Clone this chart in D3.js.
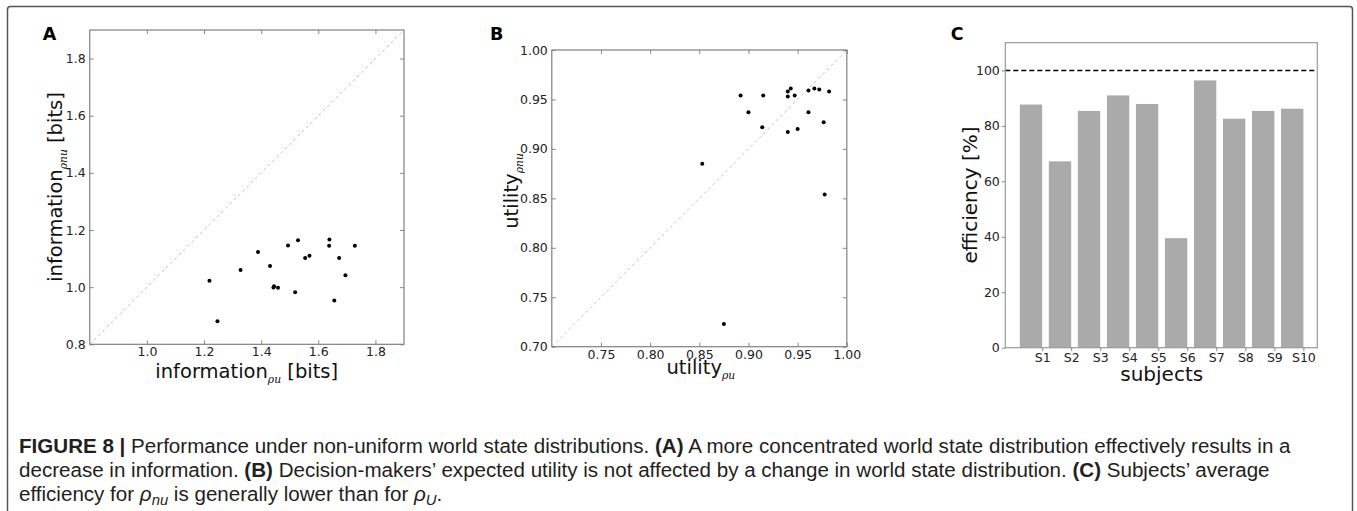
<!DOCTYPE html>
<html>
<head>
<meta charset="utf-8">
<script src="https://cdn.jsdelivr.net/npm/d3@7"></script>
<style>
body { margin: 0; background: #fff; }
svg text { font-family: "DejaVu Sans", sans-serif; }
</style>
</head>
<body>
<svg id="fig" width="1357" height="511"></svg>
<script>
// panel A: information under uniform vs non-uniform world states
var infoU  = [1.219, 1.247, 1.328, 1.389, 1.431, 1.443, 1.445, 1.459, 1.494, 1.519,
              1.529, 1.554, 1.569, 1.639, 1.638, 1.656, 1.673, 1.695, 1.728];
var infoNU = [1.022, 0.881, 1.060, 1.123, 1.074, 0.999, 1.003, 0.998, 1.146, 0.982,
              1.164, 1.102, 1.110, 1.167, 1.145, 0.953, 1.102, 1.042, 1.145];
var xTicksA = [1.0, 1.2, 1.4, 1.6, 1.8];
var yTicksA = [0.8, 1.0, 1.2, 1.4, 1.6, 1.8];

// panel B: utility
var utilU  = [0.853, 0.875, 0.892, 0.900, 0.914, 0.915, 0.940, 0.940, 0.943, 0.947,
              0.940, 0.950, 0.961, 0.961, 0.967, 0.972, 0.9765, 0.9775, 0.982];
var utilNU = [0.885, 0.723, 0.954, 0.937, 0.922, 0.954, 0.953, 0.958, 0.961, 0.954,
              0.917, 0.920, 0.959, 0.937, 0.961, 0.960, 0.927, 0.854, 0.958];
var xTicksB = [0.75, 0.80, 0.85, 0.90, 0.95, 1.00];
var yTicksB = [0.70, 0.75, 0.80, 0.85, 0.90, 0.95, 1.00];

// panel C: efficiency per subject
var subjects = ['S1', 'S2', 'S3', 'S4', 'S5', 'S6', 'S7', 'S8', 'S9', 'S10'];
var efficiency = [87.7, 67.2, 85.4, 91.0, 87.9, 39.5, 96.4, 82.6, 85.4, 86.2];
var yTicksC = [0, 20, 40, 60, 80, 100];
var refLine = 100;

var svg = d3.select('#fig');
svg.append('rect').attr('width', 1357).attr('height', 511).attr('fill', '#fff');

// outer frame of the figure (open at the bottom edge of the crop)
svg.append('rect')
    .attr('x', 7.5).attr('y', 6.5).attr('width', 1345).attr('height', 530)
    .attr('rx', 3).attr('fill', 'none').attr('stroke', '#555').attr('stroke-width', 1.5);

function styleAxis(g, size) {
    g.select('.domain').remove();
    g.selectAll('.tick line').attr('stroke', '#888').attr('stroke-width', 1);
    g.selectAll('.tick text').attr('fill', '#222').attr('font-size', size)
        .attr('font-family', '"DejaVu Sans", sans-serif');
}

function axisLabel(x, y, rot, main, sub, tail, size) {
    var t = svg.append('text')
        .attr('text-anchor', 'middle')
        .attr('font-size', size)
        .attr('fill', '#111')
        .attr('transform', 'translate(' + x + ',' + y + ')' + (rot ? ' rotate(-90)' : ''));
    t.append('tspan').text(main);
    if (sub) {
        t.append('tspan').attr('dy', 5)
            .attr('font-family', '"DejaVu Serif", serif').attr('font-style', 'italic')
            .attr('font-size', size * 0.55).text(sub);
    }
    if (tail) t.append('tspan').attr('dy', -5).text(' ' + tail);
}

function panelLetter(x, y, s) {
    svg.append('text').attr('x', x).attr('y', y)
        .attr('font-family', '"Liberation Sans", Arial, sans-serif')
        .attr('font-weight', 'bold').attr('font-size', 17.5).attr('fill', '#000')
        .text(s);
}

// scatter panel in old matplotlib style: inward ticks on all four sides
function scatterPanel(xs, ys, xDom, yDom, box, xTicks, yTicks, fmt) {
    var x = d3.scaleLinear().domain(xDom).range([box.l, box.r]);
    var y = d3.scaleLinear().domain(yDom).range([box.b, box.t]);

    svg.append('g').attr('transform', 'translate(0,' + box.b + ')')
        .call(d3.axisBottom(x).tickValues(xTicks).tickSize(-4).tickPadding(3).tickFormat(fmt))
        .call(styleAxis, 12.5);
    svg.append('g').attr('transform', 'translate(' + box.l + ',0)')
        .call(d3.axisLeft(y).tickValues(yTicks).tickSize(-4).tickPadding(4).tickFormat(fmt))
        .call(styleAxis, 12.5);
    svg.append('g').attr('transform', 'translate(0,' + box.t + ')')
        .call(d3.axisTop(x).tickValues(xTicks).tickSize(-4).tickFormat(''))
        .call(styleAxis, 12.5);
    svg.append('g').attr('transform', 'translate(' + box.r + ',0)')
        .call(d3.axisRight(y).tickValues(yTicks).tickSize(-4).tickFormat(''))
        .call(styleAxis, 12.5);

    // identity line
    svg.append('line')
        .attr('x1', x(xDom[0])).attr('y1', y(xDom[0]))
        .attr('x2', x(xDom[1])).attr('y2', y(xDom[1]))
        .attr('stroke', '#c4c4c4').attr('stroke-width', 1).attr('stroke-dasharray', '3,3');

    svg.append('rect')
        .attr('x', box.l).attr('y', box.t)
        .attr('width', box.r - box.l).attr('height', box.b - box.t)
        .attr('fill', 'none').attr('stroke', '#808080').attr('stroke-width', 1.2);

    svg.append('g').selectAll('circle').data(xs).enter().append('circle')
        .attr('cx', function (d) { return x(d); })
        .attr('cy', function (d, i) { return y(ys[i]); })
        .attr('r', 2).attr('fill', '#000');
}

// A
scatterPanel(infoU, infoNU, [0.8, 1.9], [0.8, 1.9],
    {l: 89.75, r: 404, t: 30, b: 344.3}, xTicksA, yTicksA, d3.format('.1f'));
panelLetter(42.7, 39.5, 'A');
axisLabel(246.7, 377.5, false, 'information', '\u03c1u', '[bits]', 19.5);
axisLabel(61.5, 187, true, 'information', '\u03c1nu', '[bits]', 19.5);

// B
scatterPanel(utilU, utilNU, [0.70, 1.00], [0.70, 1.00],
    {l: 551.8, r: 846.8, t: 50, b: 346.7}, xTicksB, yTicksB, d3.format('.2f'));
panelLetter(490, 40, 'B');
axisLabel(700.8, 374, false, 'utility', '\u03c1u', null, 19.5);
axisLabel(517.8, 191, true, 'utility', '\u03c1nu', null, 19.5);

// C: bars, left edge at i, tick at right edge of each bar
var barW = 0.77;
var xC = d3.scaleLinear().domain([-0.5, 10.25]).range([1005.3, 1317.3]);
var yC = d3.scaleLinear().domain([0, 110]).range([347.7, 42.7]);

svg.append('g').selectAll('rect').data(efficiency).enter().append('rect')
    .attr('x', function (d, i) { return xC(i); })
    .attr('width', xC(barW) - xC(0))
    .attr('y', function (d) { return yC(d); })
    .attr('height', function (d) { return yC(0) - yC(d); })
    .attr('fill', '#aaaaaa');

svg.append('line')
    .attr('x1', xC.range()[0]).attr('x2', xC.range()[1])
    .attr('y1', yC(refLine)).attr('y2', yC(refLine))
    .attr('stroke', '#000').attr('stroke-width', 1.4).attr('stroke-dasharray', '5,3');

svg.append('rect')
    .attr('x', xC.range()[0]).attr('y', yC.range()[1])
    .attr('width', xC.range()[1] - xC.range()[0]).attr('height', yC.range()[0] - yC.range()[1])
    .attr('fill', 'none').attr('stroke', '#999').attr('stroke-width', 1.2);

svg.append('g').attr('transform', 'translate(0,' + yC(0) + ')')
    .call(d3.axisBottom(xC)
        .tickValues(subjects.map(function (s, i) { return i + barW; }))
        .tickFormat(function (d, i) { return subjects[i]; })
        .tickSize(3.5).tickPadding(2))
    .call(styleAxis, 12.5);
svg.append('g').attr('transform', 'translate(' + xC.range()[0] + ',0)')
    .call(d3.axisLeft(yC).tickValues(yTicksC).tickSize(3.5).tickPadding(2))
    .call(styleAxis, 12.5);

panelLetter(950.7, 40, 'C');
axisLabel(1161.7, 380.5, false, 'subjects', null, null, 20);
axisLabel(976.5, 195, true, 'efficiency [%]', null, null, 20);

// caption
var captionLines = [
    [['FIGURE 8 |', 'b'], [' Performance under non-uniform world state distributions. ', ''], ['(A)', 'b'],
     [' A more concentrated world state distribution effectively results in a', '']],
    [['decrease in information. ', ''], ['(B)', 'b'],
     [' Decision-makers\u2019 expected utility is not affected by a change in world state distribution. ', ''],
     ['(C)', 'b'], [' Subjects\u2019 average', '']],
    [['efficiency for ', ''], ['\u03c1', 'i'], ['nu', 'sub'], [' is generally lower than for ', ''],
     ['\u03c1', 'i'], ['U', 'sub'], ['.', '']]
];
var captionY = [453, 477, 500.5];

var cap = svg.append('g')
    .attr('font-family', '"Liberation Sans", Arial, sans-serif')
    .attr('font-size', 18).attr('fill', '#231f20');

captionLines.forEach(function (segs, li) {
    var t = cap.append('text').attr('x', 19).attr('y', captionY[li])
        .style('font-family', '"Liberation Sans", Arial, sans-serif');
    var shifted = false;
    segs.forEach(function (s) {
        var ts = t.append('tspan').text(s[0]);
        if (s[1] === 'b') ts.attr('font-weight', 'bold');
        if (s[1] === 'i') ts.attr('font-style', 'italic');
        if (s[1] === 'sub') {
            ts.attr('font-style', 'italic').attr('font-size', '0.72em').attr('dy', 4);
            shifted = true;
        } else if (shifted) {
            ts.attr('dy', -4);
            shifted = false;
        }
    });
});

// fit first caption line to its width in the figure
var firstLen = cap.select('text').node().getComputedTextLength();
cap.attr('font-size', 18 * 1272 / firstLen);
</script>
</body>
</html>
